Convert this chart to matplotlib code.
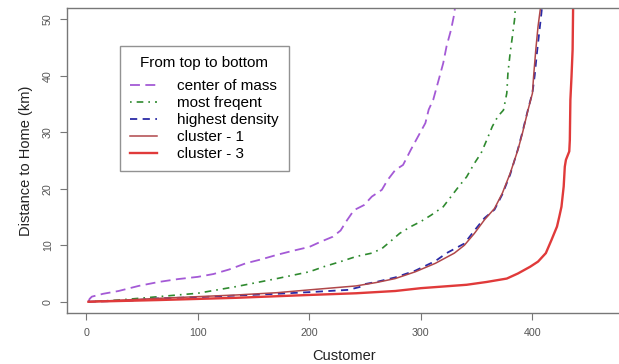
import matplotlib
matplotlib.use("Agg")
import matplotlib.pyplot as plt

# --- Data (customer index vs distance, km) ---
cm_x = [2, 3, 5, 15, 29, 47, 65, 82, 100, 114, 128, 143, 157, 171, 185, 200, 210, 221, 228,
        233, 240, 249, 256, 265, 270, 277, 284, 291, 299, 304, 307, 311, 316, 320, 323, 327, 330, 331]
cm_y = [0.0, 0.5, 0.9, 1.4, 1.9, 2.8, 3.5, 4.0, 4.4, 4.9, 5.7, 6.8, 7.5, 8.3, 9.0, 9.7, 10.6, 11.5, 12.6,
        14.2, 16.2, 17.1, 18.6, 19.8, 21.5, 23.3, 24.2, 26.9, 29.8, 31.6, 34.0, 35.7, 39.3, 42.2, 45.2, 48.1, 51.0, 53.0]

mf_x = [2, 29, 65, 82, 100, 135, 171, 200, 213, 228, 242, 256, 265, 274, 281, 291, 300, 309, 320,
        327, 334, 341, 348, 354, 359, 364, 369, 374, 377, 378, 380, 382, 384, 385]
mf_y = [0.0, 0.3, 0.9, 1.2, 1.5, 2.7, 4.1, 5.3, 6.2, 7.1, 8.0, 8.6, 9.4, 10.9, 12.1, 13.3, 14.2, 15.3, 16.8,
        18.6, 20.4, 22.1, 24.5, 26.3, 28.6, 31.0, 32.8, 33.9, 36.9, 40.4, 44.0, 46.9, 50.0, 53.0]

hd_x = [2, 40, 65, 100, 135, 171, 200, 235, 245, 249, 260, 277, 295, 313, 323, 339, 348, 357, 366,
        373, 380, 387, 391, 396, 400, 402, 404, 406, 408, 409]
hd_y = [0.0, 0.2, 0.6, 0.8, 1.1, 1.4, 1.7, 2.1, 2.6, 3.1, 3.5, 4.3, 5.5, 7.2, 8.6, 10.3, 12.6, 14.8, 16.3,
        19.0, 22.5, 27.0, 30.0, 34.0, 37.0, 40.0, 44.0, 47.5, 51.0, 53.0]

c1_x = [2, 65, 100, 135, 171, 200, 224, 242, 260, 277, 295, 313, 330, 339, 348, 357, 366, 373,
        380, 387, 391, 396, 400, 401, 403, 405, 407, 408]
c1_y = [0.0, 0.6, 0.9, 1.2, 1.6, 2.1, 2.5, 2.8, 3.4, 4.1, 5.3, 6.8, 8.6, 10.0, 12.1, 14.5, 16.5, 19.2,
        22.7, 26.9, 29.8, 33.9, 36.9, 39.8, 44.6, 48.7, 51.7, 53.0]

c3_x = [2, 65, 135, 200, 242, 277, 300, 341, 359, 377, 387, 398, 405, 412, 417, 422, 424, 426,
        428, 429, 430, 433, 433.5, 434, 435, 436, 436.5]
c3_y = [0.0, 0.3, 0.7, 1.2, 1.5, 1.9, 2.4, 3.0, 3.5, 4.1, 5.0, 6.2, 7.1, 8.6, 10.9, 13.3, 15.0, 16.8,
        20.4, 23.9, 25.1, 26.6, 28.6, 35.7, 39.8, 44.6, 53.0]

labels = ["center of mass", "most freqent", "highest density", "cluster - 1", "cluster - 3"]
x_ticks = [0, 100, 200, 300, 400]
y_ticks = [0, 10, 20, 30, 40, 50]

plt.rcParams["font.family"] = ["Liberation Sans", "DejaVu Sans"]

fig = plt.figure(figsize=(6.19, 3.64), dpi=100)
ax = fig.add_axes([0.1078, 0.140, 0.9326, 0.837])

ax.plot(cm_x, cm_y, color="#a45ad6", lw=1.3, ls=(0, (5.5, 3)), label=labels[0])
ax.plot(mf_x, mf_y, color="#2f8a2f", lw=1.2, ls=(0, (1, 3, 4, 3)), label=labels[1])
ax.plot(hd_x, hd_y, color="#2b2ba6", lw=1.3, ls=(0, (4, 3)), label=labels[2])
ax.plot(c1_x, c1_y, color="#b0474a", lw=1.1, label=labels[3])
ax.plot(c3_x, c3_y, color="#e03a3a", lw=1.7, label=labels[4])

ax.set_xlim(-17.5, 500)
ax.set_ylim(-2.0, 51.9)
ax.set_xticks(x_ticks)
ax.set_yticks(y_ticks)
ax.set_yticklabels([str(v) for v in y_ticks], rotation=90, va="center")
ax.tick_params(direction="out", length=5, width=0.8, color="#777777",
               labelcolor="#555555", labelsize=7.7)
ax.tick_params(axis="x", pad=6)
ax.tick_params(axis="y", pad=5)
for s in ax.spines.values():
    s.set_color("#777777")
    s.set_linewidth(1.0)

ax.set_xlabel("Customer", fontsize=10.5, color="#222222")
ax.xaxis.set_label_coords(0.48, -0.118)
ax.set_ylabel("Distance to Home (km)", fontsize=10.5, color="#222222", labelpad=7)

leg = ax.legend(title="From top to bottom", loc="upper left",
                bbox_to_anchor=(120 / 619, 1 - 46 / 364), bbox_transform=fig.transFigure,
                fontsize=11, title_fontsize=11, frameon=True, fancybox=False,
                handlelength=1.8, handletextpad=1.3, labelspacing=0.2,
                borderpad=0.65, borderaxespad=0)
leg._legend_box.sep = 6.5  # wider gap under the title, as in the original
leg.get_frame().set_edgecolor("#777777")
leg.get_frame().set_linewidth(1.0)

fig.savefig("out.png", dpi=100)
